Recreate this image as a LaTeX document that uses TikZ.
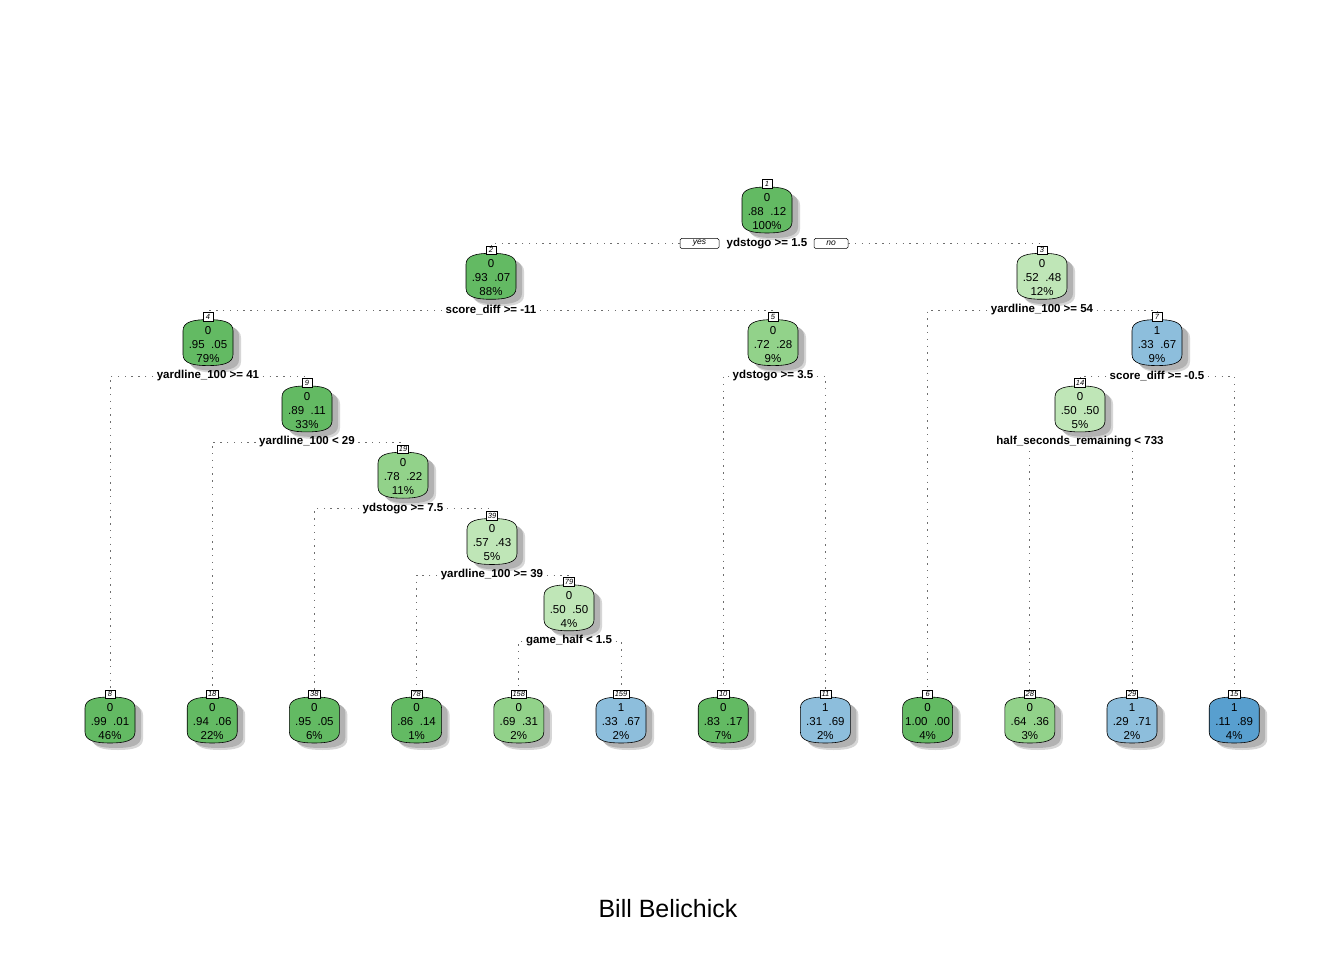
\documentclass[tikz,border=0pt]{standalone}
\usepackage{fontspec}
\setmainfont{Liberation Sans}
\definecolor{dg}{RGB}{99,186,99}
\definecolor{mg}{RGB}{146,210,138}
\definecolor{lg}{RGB}{191,230,183}
\definecolor{lb}{RGB}{141,190,220}
\definecolor{db}{RGB}{88,159,207}
\definecolor{shc}{RGB}{178,178,178}
\definecolor{shl}{RGB}{214,214,214}
\definecolor{edgec}{RGB}{110,110,110}
\tikzset{
  numbox/.style={draw, fill=white, line width=0.5pt, inner sep=1.5pt, minimum height=8.5pt, minimum width=10pt, font=\fontsize{7.5}{8}\selectfont\itshape},
  txt/.style={inner sep=0pt, font=\fontsize{11.5}{12}\selectfont},
  lab/.style={inner sep=3.5pt, font=\fontsize{11.5}{12}\selectfont\bfseries},
  yn/.style={draw, rounded corners=1.5pt, line width=0.5pt, fill=white, inner sep=0pt, minimum height=10pt, font=\fontsize{8.5}{9}\selectfont\itshape},
  edge/.style={draw=edgec, line width=0.8pt, dash pattern=on 1.4pt off 5.4pt},
  body/.style={draw=black, line width=0.6pt},
}
\newcommand{\bodypath}{(-25,11) .. controls (-25,2) and (-14,0) .. (0,0) .. controls (14,0) and (25,2) .. (25,11) -- (25,35) .. controls (25,44) and (14,46) .. (0,46) .. controls (-14,46) and (-25,44) .. (-25,35) -- cycle}
% name, x, N, num, fill, class, p0, p1, pct
\newcommand{\tnode}[9]{%
  \fill[shl, shift={({#2+8},{#3+10})}] \bodypath;
  \fill[shc, shift={({#2+6},{#3+8})}] \bodypath;
  \draw[body, fill=#5, shift={(#2,{#3+3})}] \bodypath;
  \node[numbox] (n#1) at (#2,#3) {#4};
  \node[txt] (c#1) at (#2,{#3+13.5}) {#6};
  \node[txt] (p#1) at (#2,{#3+27.5}) {#7\hspace{6.5pt}#8};
  \node[txt] (q#1) at (#2,{#3+41.5}) {#9};
}
\begin{document}
\begin{tikzpicture}[x=1pt,y=-1pt]
\useasboundingbox (0,0) rectangle (1344,960);
\fill[white] (0,0) rectangle (1344,960);
% internal nodes
\tnode{1}{767}{184}{1}{dg}{0}{.88}{.12}{100\%}
\tnode{2}{491}{250.3}{2}{dg}{0}{.93}{.07}{88\%}
\tnode{3}{1042}{250.3}{3}{lg}{0}{.52}{.48}{12\%}
\tnode{4}{208}{316.6}{4}{dg}{0}{.95}{.05}{79\%}
\tnode{5}{773}{316.6}{5}{mg}{0}{.72}{.28}{9\%}
\tnode{7}{1157}{316.6}{7}{lb}{1}{.33}{.67}{9\%}
\tnode{9}{307}{382.9}{9}{dg}{0}{.89}{.11}{33\%}
\tnode{14}{1080}{382.9}{14}{lg}{0}{.50}{.50}{5\%}
\tnode{19}{403}{449.2}{19}{mg}{0}{.78}{.22}{11\%}
\tnode{39}{492}{515.5}{39}{lg}{0}{.57}{.43}{5\%}
\tnode{79}{569}{581.8}{79}{lg}{0}{.50}{.50}{4\%}
% leaves
\tnode{8}{110}{694}{8}{dg}{0}{.99}{.01}{46\%}
\tnode{18}{212.2}{694}{18}{dg}{0}{.94}{.06}{22\%}
\tnode{38}{314.4}{694}{38}{dg}{0}{.95}{.05}{6\%}
\tnode{78}{416.6}{694}{78}{dg}{0}{.86}{.14}{1\%}
\tnode{158}{518.8}{694}{158}{mg}{0}{.69}{.31}{2\%}
\tnode{159}{621}{694}{159}{lb}{1}{.33}{.67}{2\%}
\tnode{10}{723.2}{694}{10}{dg}{0}{.83}{.17}{7\%}
\tnode{11}{825.4}{694}{11}{lb}{1}{.31}{.69}{2\%}
\tnode{6}{927.6}{694}{6}{dg}{0}{1.00}{.00}{4\%}
\tnode{28}{1029.8}{694}{28}{mg}{0}{.64}{.36}{3\%}
\tnode{29}{1132}{694}{29}{lb}{1}{.29}{.71}{2\%}
\tnode{15}{1234.2}{694}{15}{db}{1}{.11}{.89}{4\%}
% split labels
\node[lab] (s1) at (767,243.5) {ydstogo >= 1.5};
\node[yn, minimum width=39pt] (yes) at (699.5,243.5) {yes};
\node[yn, minimum width=34pt] (no) at (831,243.5) {no};
\node[lab] (s2) at (491,310) {score\_diff >= -11};
\node[lab] (s3) at (1042,310) {yardline\_100 >= 54};
\node[lab] (s4) at (208,376) {yardline\_100 >= 41};
\node[lab] (s5) at (773,376) {ydstogo >= 3.5};
\node[lab] (s7) at (1157,376) {score\_diff >= -0.5};
\node[lab] (s9) at (307,442) {yardline\_100 < 29};
\node[lab] (s14) at (1080,442) {half\_seconds\_remaining < 733};
\node[lab] (s19) at (403,508.5) {ydstogo >= 7.5};
\node[lab] (s39) at (492,575) {yardline\_100 >= 39};
\node[lab] (s79) at (569,641) {game\_half < 1.5};
% edges
\draw[edge] (yes.west) -| (n2.north);
\draw[edge] (no.east) -| (n3.north);
\draw[edge] (s2.west) -| (n4.north);
\draw[edge] (s2.east) -| (n5.north);
\draw[edge] (s3.west) -| (n6.north);
\draw[edge] (s3.east) -| (n7.north);
\draw[edge] (s4.west) -| (n8.north);
\draw[edge] (s4.east) -| (n9.north);
\draw[edge] (s5.west) -| (n10.north);
\draw[edge] (s5.east) -| (n11.north);
\draw[edge] (s7.west) -| (n14.north);
\draw[edge] (s7.east) -| (n15.north);
\draw[edge] (s9.west) -| (n18.north);
\draw[edge] (s9.east) -| (n19.north);
\draw[edge] (s14.south -| n28.north) -- (n28.north);
\draw[edge] (s14.south -| n29.north) -- (n29.north);
\draw[edge] (s19.west) -| (n38.north);
\draw[edge] (s19.east) -| (n39.north);
\draw[edge] (s39.west) -| (n78.north);
\draw[edge] (s39.east) -| (n79.north);
\draw[edge] (s79.west) -| (n158.north);
\draw[edge] (s79.east) -| (n159.north);
% title
\node[inner sep=0pt, font=\fontsize{25}{28}\selectfont] (title) at (668,909) {Bill Belichick};
\end{tikzpicture}
\end{document}
